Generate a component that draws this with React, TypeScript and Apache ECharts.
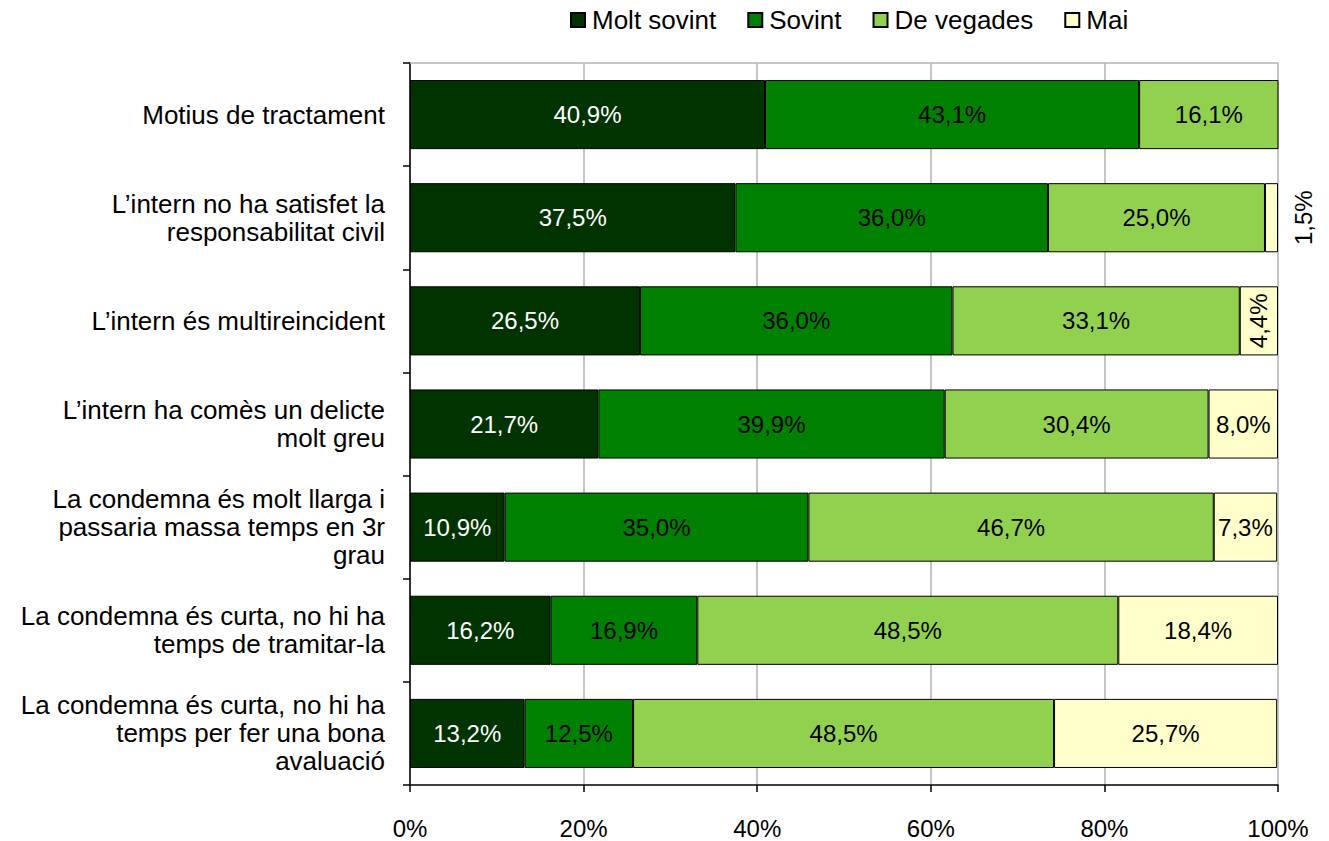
import React, { useEffect, useRef } from "react";
import * as echarts from "echarts";

const categories = [
  "Motius de tractament",
  "L’intern no ha satisfet la\nresponsabilitat civil",
  "L’intern és multireincident",
  "L’intern ha comès un delicte\nmolt greu",
  "La condemna és molt llarga i\npassaria massa temps en 3r\ngrau",
  "La condemna és curta, no hi ha\ntemps de tramitar-la",
  "La condemna és curta, no hi ha\ntemps per fer una bona\navaluació",
];

const seriesNames = ["Molt sovint", "Sovint", "De vegades", "Mai"];
const moltSovint = [40.9, 37.5, 26.5, 21.7, 10.9, 16.2, 13.2];
const sovint = [43.1, 36.0, 36.0, 39.9, 35.0, 16.9, 12.5];
const deVegades = [16.1, 25.0, 33.1, 30.4, 46.7, 48.5, 48.5];
const mai = [0, 1.5, 4.4, 8.0, 7.3, 18.4, 25.7];

const colors = ["#003300", "#008000", "#92D050", "#FFFFCC"];
const labelColors = ["#FFFFFF", "#000000", "#000000", "#000000"];
const xTicks = [0, 20, 40, 60, 80, 100];

const FONT = "'Liberation Sans', Arial, sans-serif";

export default function App() {
  const ref = useRef<HTMLDivElement>(null);
  useEffect(() => {
    if (!ref.current) return;
    const chart = echarts.init(ref.current, null, { renderer: "svg" });
    const values = [moltSovint, sovint, deVegades, mai];
    const fmt = (v: number) => (v > 0 ? v.toFixed(1).replace(".", ",") + "%" : "");
    const series = values.map((arr, si) => ({
      name: seriesNames[si],
      type: "bar",
      stack: "total",
      barCategoryGap: "33%",
      itemStyle: { color: colors[si], borderColor: "#000", borderWidth: 1 },
      label: {
        show: true,
        position: "inside",
        color: labelColors[si],
        fontSize: 24,
        fontFamily: FONT,
        formatter: (p: any) => fmt(p.value),
      },
      data: arr.map((v) => {
        if (si === 3 && v > 0 && v < 3) {
          return {
            value: v,
            label: { position: "right", rotate: 90, distance: 25, align: "center", verticalAlign: "middle" },
          };
        }
        if (si === 3 && v > 0 && v < 6) {
          return {
            value: v,
            label: { position: "inside", rotate: 90, align: "center", verticalAlign: "middle" },
          };
        }
        return { value: v };
      }),
    }));
    chart.setOption({
      animation: false,
      textStyle: { fontFamily: FONT },
      legend: {
        data: seriesNames,
        top: 2,
        left: 565,
        itemWidth: 14,
        itemHeight: 14,
        itemGap: 31,
        icon: "rect",
        textStyle: { fontSize: 26, color: "#000", fontFamily: FONT, padding: [0, 0, 0, 2] },
      },
      grid: { left: 410, right: 51, top: 63, bottom: 56, containLabel: false },
      xAxis: [
        {
          type: "value",
          min: 0,
          max: 100,
          interval: 20,
          position: "bottom",
          axisLine: { show: true, lineStyle: { color: "#000", width: 1.5 } },
          axisTick: { show: true, length: 7, lineStyle: { color: "#000", width: 1.5 } },
          axisLabel: {
            margin: 31,
            fontSize: 24,
            color: "#000",
            fontFamily: FONT,
            formatter: (v: number) => (xTicks.includes(v) ? v + "%" : ""),
          },
          splitLine: { show: true, lineStyle: { color: "#B3B3B3", width: 1.5 } },
        },
        {
          type: "value",
          min: 0,
          max: 100,
          interval: 20,
          position: "top",
          axisLine: { show: true, lineStyle: { color: "#B3B3B3", width: 1.5 } },
          axisTick: { show: false },
          axisLabel: { show: false },
          splitLine: { show: false },
        },
      ],
      yAxis: {
        type: "category",
        inverse: true,
        data: categories,
        axisLine: { show: true, lineStyle: { color: "#000", width: 1.5 } },
        axisTick: { show: true, length: 7, lineStyle: { color: "#000", width: 1.5 } },
        axisLabel: {
          margin: 25,
          fontSize: 26,
          lineHeight: 28,
          color: "#000",
          fontFamily: FONT,
          align: "right",
        },
      },
      series,
    });
    return () => chart.dispose();
  }, []);
  return (
    <div
      ref={ref}
      style={{ position: "absolute", left: 0, top: 0, width: 1329, height: 841 }}
    />
  );
}
